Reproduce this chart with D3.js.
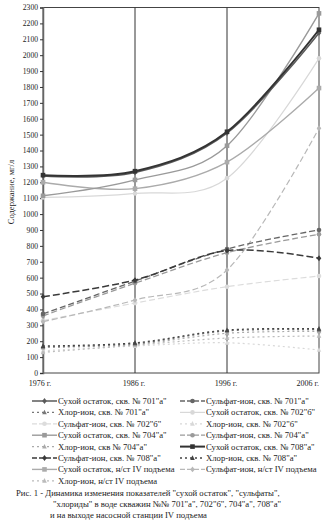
<!DOCTYPE html>
<html><head><meta charset="utf-8">
<script src="https://cdn.jsdelivr.net/npm/d3@7"></script>
<style>
html,body{margin:0;padding:0;background:#fff;}
svg{display:block;font-family:"Liberation Serif","DejaVu Serif",serif;}
</style></head>
<body><svg id="c" width="329" height="531"></svg>
<script>
const years = ["1976 г.", "1986 г.", "1996 г.", "2006 г."];
const yTicks = d3.range(0, 2301, 100);

// Сухой остаток
const dry701 = [1240, 1262, 1510, 2140];
const dry702 = [1105, 1130, 1226, 1980];
const dry704 = [1115, 1215, 1430, 2263];
const dry708 = [1245, 1270, 1518, 2160];
const dryNst = [1200, 1160, 1327, 1793];
// Сульфат-ион
const sul701 = [372, 578, 780, 900];
const sul702 = [330, 440, 543, 610];
const sul704 = [360, 565, 757, 873];
const sul708 = [480, 585, 770, 722];
const sulNst = [323, 459, 648, 1540];
// Хлор-ион
const chl701 = [165, 185, 265, 272];
const chl702 = [140, 170, 190, 145];
const chl704 = [160, 180, 250, 262];
const chl708 = [170, 190, 270, 278];
const chlNst = [130, 175, 220, 233];

const series = [
  {name:'Сухой остаток, скв. № 701"а"', v:dry701, c:"#5a5a5a", w:1.5, dash:null, m:"diamond"},
  {name:'Сульфат-ион, скв. № 701"а"', v:sul701, c:"#666", w:1.3, dash:"6,3", m:"circle"},
  {name:'Хлор-ион, скв. № 701"а"', v:chl701, c:"#777", w:1.3, dash:"2,3", m:"triangle"},
  {name:'Сухой остаток, скв. № 702"б"', v:dry702, c:"#d8d8d8", w:1.2, dash:null, m:"circle"},
  {name:'Сульфат-ион, скв. № 702"б"', v:sul702, c:"#dcdcdc", w:1.2, dash:"6,3", m:"circle"},
  {name:'Хлор-ион, скв. № 702"б"', v:chl702, c:"#d8d8d8", w:1.2, dash:"2,3", m:"triangle"},
  {name:'Сухой остаток, скв. № 704"а"', v:dry704, c:"#9a9a9a", w:1.4, dash:null, m:"square"},
  {name:'Сульфат-ион, скв. № 704"а"', v:sul704, c:"#9a9a9a", w:1.3, dash:"6,3", m:"circle"},
  {name:'Хлор-ион, скв № 704"а"', v:chl704, c:"#aaa", w:1.2, dash:"2,3", m:"triangle"},
  {name:'Сухой остаток, скв. № 708"а"', v:dry708, c:"#333", w:2, dash:null, m:"square"},
  {name:'Сульфат-ион, скв. № 708"а"', v:sul708, c:"#3a3a3a", w:1.5, dash:"7,3", m:"diamond"},
  {name:'Хлор-ион, скв. № 708"а"', v:chl708, c:"#444", w:1.3, dash:"2,3", m:"triangle"},
  {name:'Сухой остаток, н/ст IV подъема', v:dryNst, c:"#ababab", w:1.4, dash:null, m:"square"},
  {name:'Сульфат-ион, н/ст IV подъема', v:sulNst, c:"#b8b8b8", w:1.2, dash:"6,3", m:"diamond"},
  {name:'Хлор-ион, н/ст IV подъема', v:chlNst, c:"#bbb", w:1.2, dash:"2,3", m:"triangle"}
];

const svg = d3.select("#c");
const x = d3.scalePoint().domain(years).range([43, 319]).padding(0);
const y = d3.scaleLinear().domain([0, 2300]).range([373, 7.5]);

svg.append("rect").attr("x",43).attr("y",y(2300)).attr("width",319-43).attr("height",y(0)-y(2300))
  .attr("fill","none").attr("stroke","#444").attr("stroke-width",1);
svg.selectAll("line.vg").data(years.slice(1,3)).join("line")
  .attr("x1",d=>x(d)).attr("x2",d=>x(d)).attr("y1",y(2300)).attr("y2",y(0))
  .attr("stroke","#333").attr("stroke-width",1);

const ya = svg.append("g").attr("transform","translate(43,0)")
  .call(d3.axisLeft(y).tickValues(yTicks).tickSize(3).tickPadding(2).tickFormat(d3.format("d")));
ya.select(".domain").attr("stroke","#666").attr("stroke-width",1.5);
ya.selectAll(".tick line").attr("stroke","#333");
ya.selectAll("text").attr("font-size",7.6).attr("font-family","Liberation Serif").attr("fill","#222");

svg.selectAll("text.xl").data(years).join("text")
  .attr("x",(d,i)=> i===0 ? x(d)-3 : i===3 ? x(d) : x(d)-1)
  .attr("y",386).attr("text-anchor",(d,i)=> i===3 ? "end" : "middle")
  .attr("font-size",8).attr("fill","#222").text(d=>d);

svg.append("text").attr("transform","translate(14,192) rotate(-90)")
  .attr("text-anchor","middle").attr("font-size",8.5).attr("fill","#222").text("Содержание, мг/л");

const line = d3.line().x((d,i)=>x(years[i])).y(d=>y(d)).curve(d3.curveCatmullRom.alpha(0));

function marker(g, type, cx, cy, col){
  const s = 2.3;
  if(type==="circle") g.append("circle").attr("cx",cx).attr("cy",cy).attr("r",s).attr("fill",col);
  else if(type==="square") g.append("rect").attr("x",cx-s).attr("y",cy-s).attr("width",2*s).attr("height",2*s).attr("fill",col);
  else if(type==="diamond") g.append("path").attr("d",`M${cx},${cy-s-0.6}L${cx+s},${cy}L${cx},${cy+s+0.6}L${cx-s},${cy}Z`).attr("fill",col);
  else g.append("path").attr("d",`M${cx},${cy-s-0.4}L${cx+s},${cy+s-0.4}L${cx-s},${cy+s-0.4}Z`).attr("fill",col);
}

const order = series.map((s,i)=>i).sort((a,b)=>d3.color(series[b].c).r - d3.color(series[a].c).r);
order.forEach(i=>{
  const s = series[i];
  const g = svg.append("g");
  g.append("path").attr("d",line(s.v)).attr("fill","none").attr("stroke",s.c)
    .attr("stroke-width",s.w).attr("stroke-dasharray",s.dash);
  s.v.forEach((v,j)=>marker(g, s.m, x(years[j]), y(v), s.c));
});

const leg = svg.append("g");
series.forEach((s,i)=>{
  const col = i%2, row = Math.floor(i/2);
  const sx = col===0 ? 32 : 180;
  const cy = 401 + row*11.4;
  const g = leg.append("g");
  g.append("line").attr("x1",sx).attr("x2",sx+25).attr("y1",cy).attr("y2",cy)
    .attr("stroke",s.c).attr("stroke-width",s.w).attr("stroke-dasharray",s.dash ? (s.dash==="2,3"?"2,3":"5,2") : null);
  marker(g, s.m, sx+12.5, cy, s.c);
  g.append("text").attr("x",sx+26).attr("y",cy+3).attr("font-size",8.7).attr("fill","#222").text(s.name);
});

const cap = [
  {t:'Рис. 1 - Динамика изменения показателей "сухой остаток", "сульфаты",', x:16},
  {t:'"хлориды" в воде скважин  №№ 701"а", 702"б", 704"а", 708"а"', x:53},
  {t:'и на выходе насосной станции IV подъема', x:50}
];
svg.selectAll("text.cap").data(cap).join("text").attr("x",d=>d.x).attr("y",(d,i)=>496+i*11)
  .attr("font-size",8.7).attr("fill","#222").text(d=>d.t);
</script></body></html>
